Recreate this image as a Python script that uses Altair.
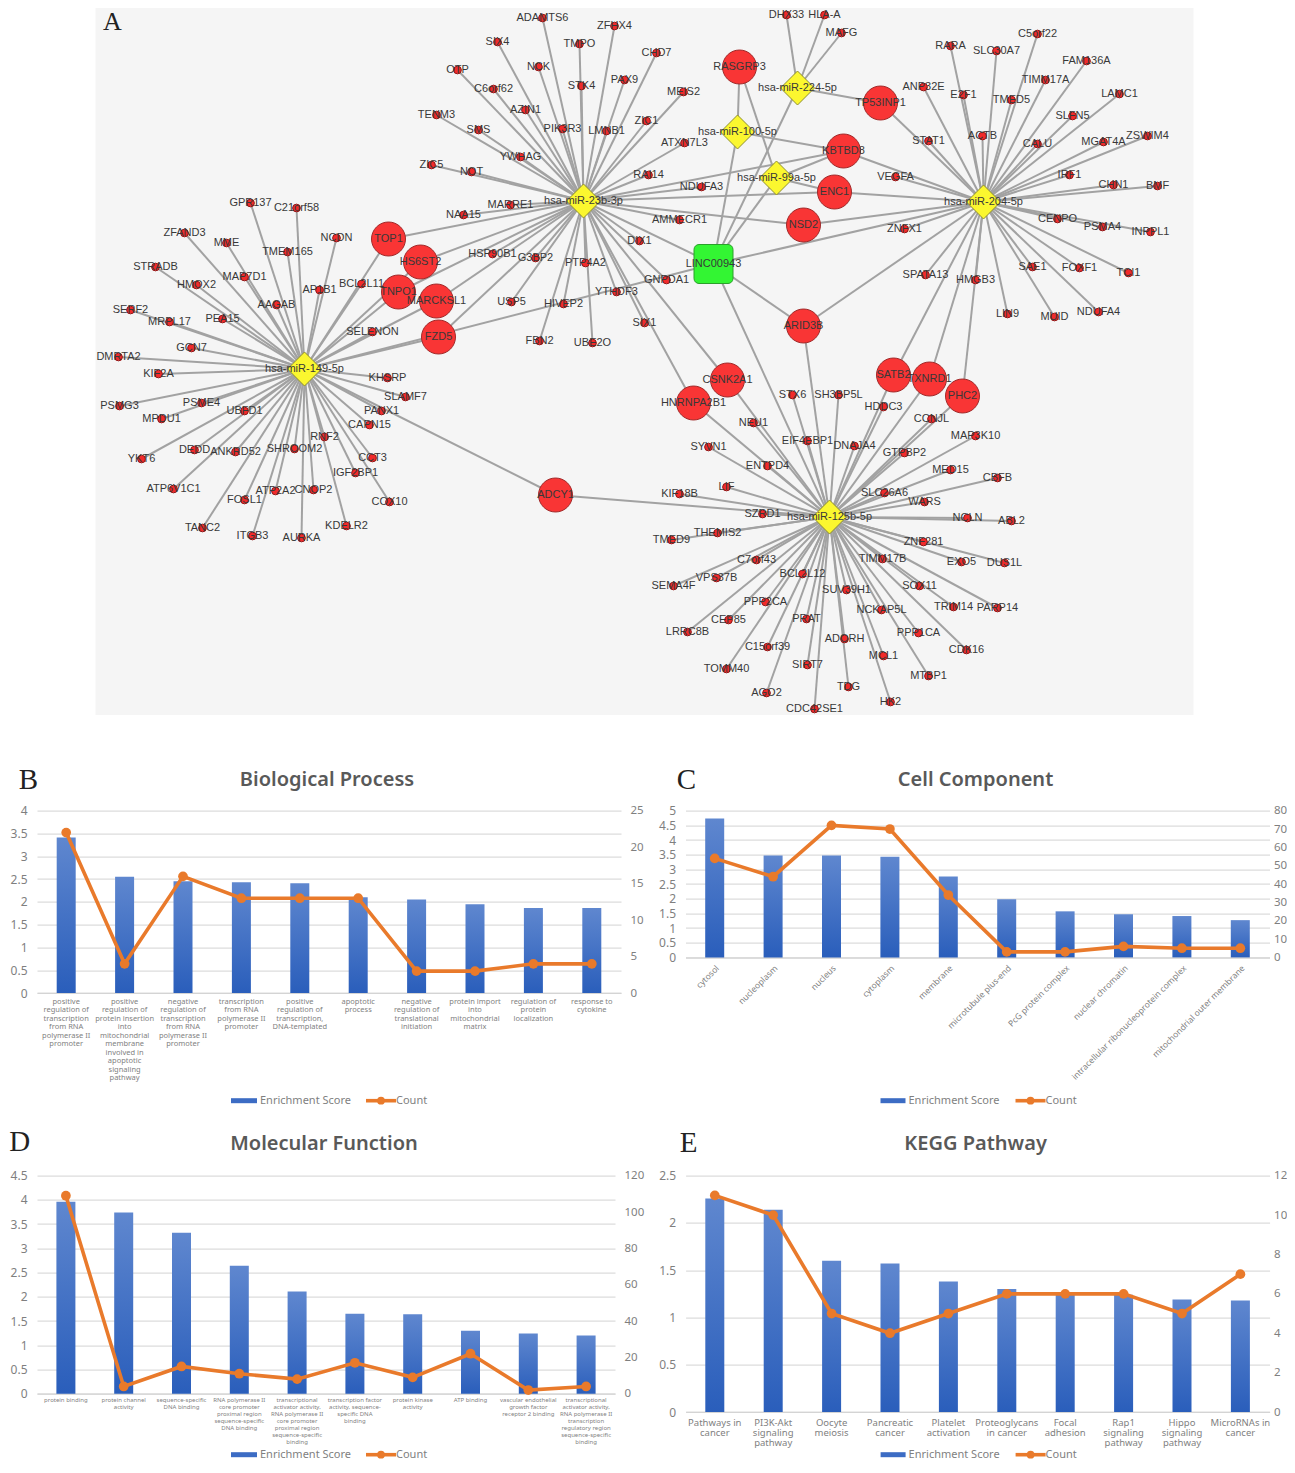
import altair as alt
import pandas as pd

# ---------- network data (picture coordinates) ----------
HUBS = ["hsa-miR-149-5p", "hsa-miR-23b-3p", "hsa-miR-100-5p", "hsa-miR-99a-5p",
        "hsa-miR-224-5p", "hsa-miR-204-5p", "hsa-miR-125b-5p"]
HUB_X = [304, 583, 737, 776, 797, 983, 829]
HUB_Y = [369, 201, 132, 178, 88, 202, 517]

LEAF_149 = ["GPR137", "C21orf58", "ZFAND3", "MME", "TMEM165", "NCDN", "STRADB", "HMOX2", "MAP7D1", "AP1B1",
            "BCL2L11", "AAGAB", "SERF2", "MRPL17", "PEA15", "SELENON", "GCN7", "DMRTA2", "KIF2A", "KHSRP",
            "SLAMF7", "PSMG3", "PSME4", "UBFD1", "PANX1", "MPDU1", "CAPN15", "RNF2", "YKT6", "DEDD",
            "ANKRD52", "SHROOM2", "CCT3", "IGF2BP1", "ATP6V1C1", "ATP2A2", "CNOP2", "FOSL1", "COX10",
            "TANC2", "ITGB3", "KDELR2", "AURKA"]
X_149 = [250, 296, 184, 226, 287, 336, 155, 196, 244, 319, 361, 276, 130, 169, 222, 372, 191, 118, 158, 387,
         405, 119, 201, 244, 381, 161, 369, 324, 141, 194, 235, 294, 372, 355, 173, 275, 313, 244, 389,
         202, 252, 346, 301]
Y_149 = [203, 208, 233, 243, 252, 238, 267, 285, 277, 290, 284, 305, 310, 322, 319, 332, 348, 357, 374, 378,
         397, 406, 403, 411, 411, 419, 425, 437, 459, 450, 452, 449, 458, 473, 489, 491, 490, 500, 502,
         528, 536, 526, 538]

LEAF_23 = ["ADAMTS6", "ZFHX4", "SIX4", "TMPO", "CHD7", "OTP", "NCK", "PAX9", "C6orf62", "STK4", "MEIS2", "AZIN1",
           "PIK3R3", "LMNB1", "ZIC1", "TENM3", "SMS", "ATXN7L3", "YWHAG", "ZIC5", "NOT", "RAI14", "NDUFA3",
           "NAA15", "MARRE1", "AMMECR1", "DIX1", "HSP90B1", "G3BP2", "PTP4A2", "GNPDA1", "YTHDF3", "HIVEP2",
           "USP5", "SIX1", "FBN2", "UBE2O"]
X_23 = [542, 614, 497, 579, 656, 457, 538, 624, 493, 581, 683, 525, 562, 606, 646, 436, 478, 684, 520, 431,
        471, 648, 701, 463, 510, 679, 639, 492, 535, 585, 666, 616, 563, 511, 644, 539, 592]
Y_23 = [18, 26, 42, 44, 53, 70, 67, 80, 89, 86, 92, 110, 129, 131, 121, 115, 130, 143, 157, 165,
        172, 175, 187, 215, 205, 220, 241, 254, 258, 263, 280, 292, 304, 302, 323, 341, 343]

LEAF_224 = ["DHX33", "HLA-A", "MAFG"]
X_224 = [786, 824, 841]
Y_224 = [15, 15, 33]

LEAF_204 = ["RARA", "SLC30A7", "C5orf22", "FAM136A", "TIMM17A", "ANP32E", "E2F1", "TMED5", "LAMC1", "SLFN5",
            "STAT1", "ACTB", "CALU", "MGAT4A", "ZSWIM4", "IRF1", "VEGFA", "CHN1", "BMF", "CENPO", "PSMA4",
            "INPPL1", "ZNFX1", "SPATA13", "HMGB3", "SAE1", "FOXF1", "TCI1", "LIN9", "MUID", "NDUFA4"]
X_204 = [950, 996, 1037, 1086, 1045, 923, 963, 1011, 1119, 1072, 928, 982, 1037, 1103, 1147, 1069, 895, 1113,
         1157, 1057, 1102, 1150, 904, 925, 975, 1032, 1079, 1128, 1007, 1054, 1098]
Y_204 = [46, 51, 34, 61, 80, 87, 95, 100, 94, 116, 141, 136, 144, 142, 136, 175, 177, 185, 186, 219, 227,
         232, 229, 275, 280, 267, 268, 273, 314, 317, 312]

LEAF_125 = ["STX6", "SH3BP5L", "HDDC3", "NEU1", "CCNJL", "MAP3K10", "EIF4EBP1", "DNAJA4", "SYVN1", "GTPBP2",
            "ENTPD4", "MED15", "CBFB", "LIF", "KIF18B", "SLC26A6", "WARS", "SZRD1", "NCLN", "ABL2", "THEMIS2",
            "TMED9", "ZNF281", "C7orf43", "TIMM17B", "EXO5", "DUS1L", "VPS37B", "SEMA4F", "BCL2L12", "SUV39H1",
            "SOX11", "PPP2CA", "NCKAP5L", "TRIM14", "PARP14", "CEP85", "PRAT", "PPP1CA", "LRRC8B", "ADORH",
            "CDK16", "C15orf39", "MCL1", "SIRT7", "TOMM40", "MTBP1", "TDG", "AGO2", "HK2", "CDC42SE1"]
X_125 = [792, 838, 883, 753, 931, 975, 807, 854, 708, 904, 767, 950, 997, 726, 679, 884, 924, 762, 967, 1011,
         717, 671, 923, 756, 882, 961, 1004, 716, 673, 802, 846, 919, 765, 881, 953, 997, 728, 806, 918, 687,
         844, 966, 767, 883, 807, 726, 928, 848, 766, 890, 814]
Y_125 = [395, 395, 407, 423, 419, 436, 441, 446, 447, 453, 466, 470, 478, 487, 494, 493, 502, 514, 518, 521,
         533, 540, 542, 560, 559, 562, 563, 578, 586, 574, 590, 586, 602, 610, 607, 608, 620, 619, 633, 632,
         639, 650, 647, 656, 665, 669, 676, 687, 693, 702, 709]

BIG = ["TOP1", "HS6ST2", "TNPO1", "MARCKSL1", "FZD5", "RASGRP3", "TP53INP1", "KBTBD8", "ENC1", "NSD2", "ARID3B",
       "CSNK2A1", "HNRNPA2B1", "SATB2", "TXNRD1", "PHC2", "ADCY1"]
BIG_X = [388, 420, 398, 436, 438, 739, 880, 843, 834, 803, 803, 727, 693, 893, 929, 962, 555]
BIG_Y = [239, 262, 292, 301, 337, 67, 103, 151, 192, 225, 326, 380, 403, 375, 379, 396, 495]
BIG_LINKS = [
    ["hsa-miR-149-5p", "hsa-miR-23b-3p"], ["hsa-miR-149-5p", "hsa-miR-23b-3p"],
    ["hsa-miR-149-5p", "hsa-miR-23b-3p"], ["hsa-miR-149-5p", "hsa-miR-23b-3p"],
    ["hsa-miR-149-5p", "hsa-miR-23b-3p"], ["hsa-miR-100-5p", "hsa-miR-99a-5p"],
    ["hsa-miR-224-5p", "hsa-miR-204-5p"],
    ["hsa-miR-100-5p", "hsa-miR-99a-5p", "hsa-miR-23b-3p", "hsa-miR-204-5p"],
    ["hsa-miR-99a-5p", "hsa-miR-23b-3p", "hsa-miR-204-5p"], ["hsa-miR-23b-3p", "hsa-miR-204-5p"],
    ["LINC00943", "hsa-miR-204-5p", "hsa-miR-125b-5p"], ["hsa-miR-23b-3p", "hsa-miR-125b-5p"],
    ["hsa-miR-23b-3p", "hsa-miR-125b-5p"], ["hsa-miR-204-5p", "hsa-miR-125b-5p"],
    ["hsa-miR-204-5p", "hsa-miR-125b-5p"], ["hsa-miR-204-5p", "hsa-miR-125b-5p"],
    ["hsa-miR-149-5p", "hsa-miR-125b-5p"],
]
LNC = "LINC00943"
LNC_X, LNC_Y = 713, 264
LNC_HALF = 19.5
LNC_LINKS = HUBS
PANEL_X = [95, 1193]
PANEL_Y = [8, 715]

# ---------- enrichment panels ----------
BP_CATS = ["positive|regulation of|transcription|from RNA|polymerase II|promoter",
           "positive|regulation of|protein insertion|into|mitochondrial|membrane|involved in|apoptotic|signaling|pathway",
           "negative|regulation of|transcription|from RNA|polymerase II|promoter",
           "transcription|from RNA|polymerase II|promoter",
           "positive|regulation of|transcription,|DNA-templated",
           "apoptotic|process", "negative|regulation of|translational|initiation",
           "protein import|into|mitochondrial|matrix", "regulation of|protein|localization", "response to|cytokine"]
BP_SCORE = [3.41, 2.55, 2.45, 2.43, 2.41, 2.10, 2.05, 1.95, 1.865, 1.865]
BP_COUNT = [22, 4, 16, 13, 13, 13, 3, 3, 4, 4]

CC_CATS = ["cytosol", "nucleoplasm", "nucleus", "cytoplasm", "membrane", "microtubule plus-end",
           "PcG protein complex", "nuclear chromatin", "intracellular ribonucleoprotein complex",
           "mitochondrial outer membrane"]
CC_SCORE = [4.73, 3.47, 3.47, 3.43, 2.76, 1.98, 1.57, 1.47, 1.41, 1.27]
CC_COUNT = [54, 44, 72, 70, 34, 3, 3, 6, 5, 5]

MF_CATS = ["protein binding", "protein channel|activity", "sequence-specific|DNA binding",
           "RNA polymerase II|core promoter|proximal region|sequence-specific|DNA binding",
           "transcriptional|activator activity,|RNA polymerase II|core promoter|proximal region|sequence-specific|binding",
           "transcription factor|activity, sequence-|specific DNA|binding", "protein kinase|activity", "ATP binding",
           "vascular endothelial|growth factor|receptor 2 binding",
           "transcriptional|activator activity,|RNA polymerase II|transcription|regulatory region|sequence-specific|binding"]
MF_SCORE = [3.96, 3.74, 3.32, 2.64, 2.11, 1.65, 1.64, 1.30, 1.245, 1.20]
MF_COUNT = [109, 4, 15, 11, 8, 17, 9, 22, 2, 4]

KG_CATS = ["Pathways in|cancer", "PI3K-Akt|signaling|pathway", "Oocyte|meiosis", "Pancreatic|cancer", "Platelet|activation",
           "Proteoglycans|in cancer", "Focal|adhesion", "Rap1|signaling|pathway", "Hippo|signaling|pathway", "MicroRNAs in|cancer"]
KG_SCORE = [2.26, 2.14, 1.60, 1.57, 1.38, 1.30, 1.255, 1.24, 1.19, 1.18]
KG_COUNT = [11, 10, 5, 4, 5, 6, 6, 6, 5, 7]

# ---------- styles ----------
SANS = "Liberation Sans"
UI = "Noto Sans"
SERIF = "Liberation Serif"
GREY = "#7f7f7f"
ORANGE = "#E97A2B"
BAR_FILL = alt.LinearGradient(gradient="linear", x1=0, x2=0, y1=0, y2=1,
                              stops=[alt.GradientStop(color="#5F87CF", offset=0),
                                     alt.GradientStop(color="#2A5EBB", offset=1)])

# ---------- network chart ----------
nodes = []
edges = []
lookup = dict(zip(HUBS, zip(HUB_X, HUB_Y)))
lookup[LNC] = (LNC_X, LNC_Y)


def add_edge(a, bx, by):
    ax, ay = lookup[a]
    edges.append({"x": ax, "y": ay, "x2": bx, "y2": by})


for hub, names, xs, ys in [("hsa-miR-149-5p", LEAF_149, X_149, Y_149), ("hsa-miR-23b-3p", LEAF_23, X_23, Y_23),
                           ("hsa-miR-224-5p", LEAF_224, X_224, Y_224), ("hsa-miR-204-5p", LEAF_204, X_204, Y_204),
                           ("hsa-miR-125b-5p", LEAF_125, X_125, Y_125)]:
    for n, x, y in zip(names, xs, ys):
        nodes.append({"name": n, "x": x, "y": y, "kind": "leaf"})
        add_edge(hub, x, y)
for n, x, y, links in zip(BIG, BIG_X, BIG_Y, BIG_LINKS):
    nodes.append({"name": n, "x": x, "y": y, "kind": "big"})
    for h in links:
        add_edge(h, x, y)
for n, x, y in zip(HUBS, HUB_X, HUB_Y):
    nodes.append({"name": n, "x": x, "y": y, "kind": "hub"})
for h in LNC_LINKS:
    add_edge(h, LNC_X, LNC_Y)
nodes.append({"name": LNC, "x": LNC_X, "y": LNC_Y, "kind": "lnc"})
ndf = pd.DataFrame(nodes)
edf = pd.DataFrame(edges)

NET_LEFT = 36.5
NET_RIGHT = 1270
xs = alt.Scale(domain=[NET_LEFT, NET_RIGHT], nice=False, zero=False)
ys = alt.Scale(domain=PANEL_Y, reverse=True, nice=False, zero=False)
X = alt.X("x:Q", scale=xs, axis=None)
Y = alt.Y("y:Q", scale=ys, axis=None)

bg = alt.Chart(pd.DataFrame({"x": [PANEL_X[0]], "x2": [PANEL_X[1]], "y": [PANEL_Y[0]], "y2": [PANEL_Y[1]]})).mark_rect(
    color="#f5f5f5").encode(X, alt.X2("x2:Q"), Y, alt.Y2("y2:Q"))
edge_layer = alt.Chart(edf).mark_rule(color="#a2a2a2", strokeWidth=2).encode(X, alt.X2("x2:Q"), Y, alt.Y2("y2:Q"))
leaf = alt.Chart(ndf[ndf.kind == "leaf"]).mark_point(filled=True, shape="circle", size=60, fill="#f22a2a",
                                                     stroke="#8d1a1a", strokeWidth=1, opacity=1).encode(X, Y)
big = alt.Chart(ndf[ndf.kind == "big"]).mark_point(filled=True, shape="circle", size=1156, fill="#f93535",
                                                   stroke="#a02a2a", strokeWidth=1, opacity=1).encode(X, Y)
hub = alt.Chart(ndf[ndf.kind == "hub"]).mark_point(filled=True, shape="diamond", size=1156, fill="#fbf72f",
                                                   stroke="#8f8f30", strokeWidth=1, opacity=1).encode(X, Y)
lnc = alt.Chart(pd.DataFrame({"x": [LNC_X - LNC_HALF], "x2": [LNC_X + LNC_HALF], "y": [LNC_Y - LNC_HALF],
                              "y2": [LNC_Y + LNC_HALF]})).mark_rect(
    fill="#33f533", stroke="#2aa02a", strokeWidth=1, cornerRadius=5).encode(X, alt.X2("x2:Q"), Y, alt.Y2("y2:Q"))
labels = alt.Chart(ndf).mark_text(font=SANS, fontSize=11, color="#383838", align="center", baseline="middle").encode(
    X, Y, text="name:N")
letter_a = alt.Chart(pd.DataFrame({"t": ["A"], "x": [112], "y": [30]})).mark_text(
    font=SERIF, fontSize=26, color="#222222", baseline="alphabetic").encode(X, Y, text="t:N")
network = alt.layer(bg, edge_layer, leaf, big, hub, lnc, labels, letter_a).properties(
    width=NET_RIGHT - NET_LEFT, height=PANEL_Y[1] - PANEL_Y[0])


# ---------- enrichment panel ----------
def panel(title, letter, cats, score, count, w, h, lmax, lticks, rmax, rticks, key_x, leg_y, letter_xy, title_y, label_kw,
          right_pad=9):
    df = pd.DataFrame({"cat": cats, "score": score, "count": count})
    x = alt.X("cat:N", sort=cats, scale=alt.Scale(type="band", paddingInner=0, paddingOuter=0),
              axis=alt.Axis(title=None, ticks=False, domainColor="#d4d4d4", domainWidth=1.2, labelColor=GREY,
                            labelFont=UI, labelOverlap=False, labelBound=False, labelFlush=False, grid=False,
                            labelLimit=300, **label_kw))
    bars = alt.Chart(df).mark_bar(fill=BAR_FILL, size=19).encode(
        x, alt.Y("score:Q", scale=alt.Scale(domain=[0, lmax], nice=False),
                 axis=alt.Axis(title=None, values=lticks, format="~g", grid=True, gridColor="#dcdcdc", gridWidth=1.2,
                               domain=False, ticks=False, labelColor=GREY, labelFont=UI, labelFontSize=12,
                               labelPadding=10)))
    line = alt.Chart(df).mark_line(color=ORANGE, strokeWidth=3.6,
                                   point=alt.OverlayMarkDef(filled=True, size=95, fill=ORANGE, opacity=1)).encode(
        x, alt.Y("count:Q", scale=alt.Scale(domain=[0, rmax], nice=False),
                 axis=alt.Axis(title=None, orient="right", values=rticks, format="d", grid=False, domain=False,
                               ticks=False, labelColor=GREY, labelFont=UI, labelFontSize=11.5, labelPadding=right_pad)))
    one = pd.DataFrame({"k": [0]})
    k0, k1, t0, o0, o1, t1 = key_x
    leg = [
        alt.Chart(one).mark_rule(color="#3C6CC4", strokeWidth=5).encode(x=alt.value(k0), x2=alt.value(k1), y=alt.value(leg_y)),
        alt.Chart(one).mark_rule(color=ORANGE, strokeWidth=3.6).encode(x=alt.value(o0), x2=alt.value(o1), y=alt.value(leg_y)),
        alt.Chart(one).mark_point(filled=True, size=60, fill=ORANGE, opacity=1).encode(x=alt.value((o0 + o1) / 2), y=alt.value(leg_y)),
        alt.Chart(one).mark_text(font=UI, fontSize=11, color=GREY, align="left", baseline="middle", text="Enrichment Score").encode(
            x=alt.value(t0), y=alt.value(leg_y)),
        alt.Chart(one).mark_text(font=UI, fontSize=11, color=GREY, align="left", baseline="middle", text="Count").encode(
            x=alt.value(t1), y=alt.value(leg_y)),
        alt.Chart(one).mark_text(font=SERIF, fontSize=29, color="#222222", baseline="middle", text=letter).encode(
            x=alt.value(letter_xy[0]), y=alt.value(letter_xy[1])),
        alt.Chart(one).mark_text(font=UI, fontSize=20, fontWeight=600, color="#595959", align="center", baseline="middle",
                                 text=title).encode(x=alt.value(w / 2 - 2), y=alt.value(title_y)),
    ]
    anchor = alt.Chart(one).mark_rule(opacity=0).encode(x=alt.value(-28.5), y=alt.value(0), y2=alt.value(1))
    return alt.layer(bars, line, *leg, anchor).resolve_scale(y="independent").properties(width=w, height=h)


bp = panel("Biological Process", "B", BP_CATS, BP_SCORE, BP_COUNT, 584, 182.3, 4, [0, .5, 1, 1.5, 2, 2.5, 3, 3.5, 4],
           25, [0, 5, 10, 15, 20, 25], (194, 220, 223, 329, 359, 359), 290, (-8.5, -30.7), -31,
           dict(labelExpr="split(datum.label,'|')", labelAngle=0, labelFontSize=7.5, labelLineHeight=8.5, labelPadding=4))
cc = panel("Cell Component", "C", CC_CATS, CC_SCORE, CC_COUNT, 584, 146.7, 5, [0, .5, 1, 1.5, 2, 2.5, 3, 3.5, 4, 4.5, 5],
           80, list(range(0, 90, 10)), (195, 220, 223, 330, 360, 360), 290, (1, -31), -31,
           dict(labelAngle=315, labelFontSize=8.5, labelPadding=6), right_pad=4)
mf = panel("Molecular Function", "D", MF_CATS, MF_SCORE, MF_COUNT, 578, 218, 4.5, [0, .5, 1, 1.5, 2, 2.5, 3, 3.5, 4, 4.5],
           120, list(range(0, 140, 20)), (194, 220, 223, 329, 359, 359), 279, (-17.4, -33.7), -31.5,
           dict(labelExpr="split(datum.label,'|')", labelAngle=0, labelFontSize=6, labelLineHeight=7, labelPadding=3))
kg = panel("KEGG Pathway", "E", KG_CATS, KG_SCORE, KG_COUNT, 584, 236.3, 2.5, [0, .5, 1, 1.5, 2, 2.5],
           12, list(range(0, 14, 2)), (195, 220, 223, 330, 360, 360), 279, (3, -33), -31.5,
           dict(labelExpr="split(datum.label,'|')", labelAngle=0, labelFontSize=9.5, labelLineHeight=10, labelPadding=5),
           right_pad=4)

row2 = alt.hconcat(bp, cc, spacing=64.5, bounds="flush")
row3 = alt.hconcat(mf, kg, spacing=70.6, bounds="flush")
lower = alt.vconcat(row2, row3, spacing=365, bounds="flush")
chart = alt.vconcat(network, lower, spacing=95.7, bounds="flush").properties(padding=0).configure_view(stroke=None)

chart.save("out.html", embed_options={"renderer": "svg", "actions": False})
